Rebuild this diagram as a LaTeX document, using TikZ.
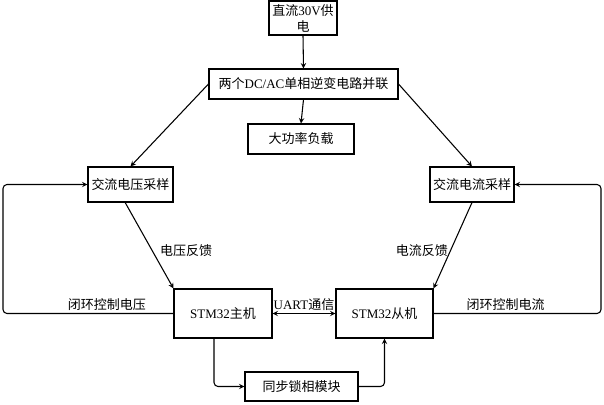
\documentclass[tikz,border=0pt]{standalone}
\usepackage{fontspec}
\setmainfont{Liberation Serif}
\newfontfamily\cjk{Noto Sans CJK SC}
\newcommand{\zh}[1]{{\cjk #1}}

\tikzstyle{block} = [draw,thick,inner sep=0pt,align=center]
\tikzstyle{weight} = [inner sep=1.5pt]
\tikzstyle{arrowdecorate}=[->,>=stealth,thick]
\tikzstyle{loopline}=[->,>=stealth,thick,rounded corners=3pt]

\begin{document}
\begin{tikzpicture}[x=0.75pt,y=-0.75pt,font=\fontsize{9.75}{12}\selectfont]
      \useasboundingbox (0,0) rectangle (604,404);

      \foreach \nodename/\x/\y/\w/\h/\txt in {
        pwr/303/18/68/34/{\zh{直流}30V\zh{供}\\\zh{电}},
        inv/303.5/84/189/30/{\zh{两个}DC/AC\zh{单相逆变电路并联}},
        load/301/139/106/30/{\zh{大功率负载}},
        vsamp/130.5/184.5/85/35/{\zh{交流电压采样}},
        isamp/472/184.5/84/35/{\zh{交流电流采样}},
        master/223/313.5/98/49/{STM32\zh{主机}},
        slave/384.5/313.5/97/49/{STM32\zh{从机}},
        pll/301.5/386.5/113/29/{\zh{同步锁相模块}}}
      {
        \node (\nodename) at (\x,\y) [block,minimum width=\w*0.75pt,minimum height=\h*0.75pt] {\txt};
      }
      %% edges or lines
      \path
      \foreach \startnode/\endnode in {pwr.south/inv.north,
        inv.south/load.north, inv.west/vsamp.north, inv.east/isamp.north}
      {
        (\startnode) edge[arrowdecorate] (\endnode)
      };

      \draw[arrowdecorate] ([xshift=-4pt]vsamp.south) -- node[weight,right,pos=0.56,xshift=4pt] {\zh{电压反馈}} (master.north west);
      \draw[arrowdecorate] (isamp.south) -- node[weight,left,pos=0.56] {\zh{电流反馈}} (slave.north east);

      \coordinate (lturn) at (3,313.5);
      \coordinate (rturn) at (601,313.5);
      \draw[loopline] (master.west) -- node[weight,above,pos=0.39] {\zh{闭环控制电压}} (lturn) |- (vsamp.west);
      \draw[loopline] (slave.east) -- node[weight,above,pos=0.43] {\zh{闭环控制电流}} (rturn) |- (isamp.east);

      \draw[<->,>=stealth,thick] (master.east) -- node[weight,above] {UART\zh{通信}} (slave.west);
      \draw[loopline] ([xshift=-6.75pt]master.south) |- (pll.west);
      \draw[loopline] (pll.east) -| (slave.south);
\end{tikzpicture}
\end{document}
